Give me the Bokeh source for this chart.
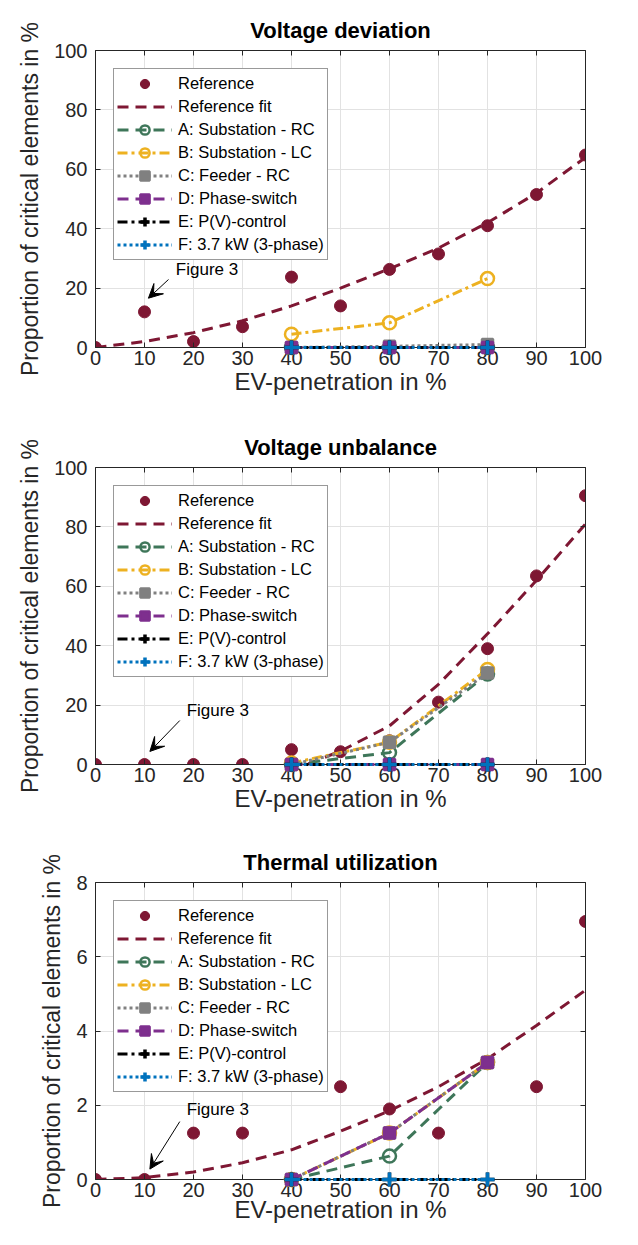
from bokeh.plotting import figure
from bokeh.layouts import column
from bokeh.models import (LinearAxis, Range1d, FixedTicker, Arrow, VeeHead,
                          Label, Legend, LegendItem)
from bokeh.embed import file_html
from bokeh.resources import INLINE

FONT = "Liberation Sans"

# ---------------- data ----------------
ev_ref = [0, 10, 20, 30, 40, 50, 60, 70, 80, 90, 100]
ev_sim = [40, 60, 80]

# Voltage deviation
vd_ref = [0, 12, 2, 7, 23.7, 14, 26.3, 31.5, 41, 51.5, 64.8]
vd_fit_x = [0, 10, 20, 30, 40, 50, 60, 70, 80, 90, 100]
vd_fit = [0, 2, 5, 9, 14, 20, 26.5, 33.5, 42, 52, 64]
vd_A = [0, 0, 0]
vd_B = [4.5, 8.3, 23.2]
vd_C = [0, 0.4, 1.0]
vd_D = [0, 0, 0]
vd_E = [0, 0, 0]
vd_F = [0, 0, 0]

# Voltage unbalance
vu_ref = [0, 0, 0, 0, 5, 4.3, 8, 21, 39, 63.5, 90.5]
vu_fit_x = [40, 50, 60, 70, 80, 90, 100]
vu_fit = [-2, 4.5, 13, 27, 44, 62, 81]
vu_A = [0, 4, 30.5]
vu_B = [0.5, 7.5, 32]
vu_C = [0, 7.5, 30.8]
vu_D = [0, 0, 0]
vu_E = [0, 0, 0]
vu_F = [0, 0, 0]

# Thermal utilization
th_ref = [0, 0, 1.25, 1.25, 0, 2.5, 1.9, 1.25, 3.15, 2.5, 6.95]
th_fit_x = [0, 10, 20, 30, 40, 50, 60, 70, 80, 90, 100]
th_fit = [0, 0.05, 0.2, 0.45, 0.8, 1.3, 1.85, 2.5, 3.25, 4.15, 5.1]
th_A = [0, 0.63, 3.15]
th_B = [0, 1.25, 3.15]
th_C = [0, 1.25, 3.15]
th_D = [0, 1.25, 3.15]
th_E = [0, 0, 0]
th_F = [0, 0, 0]

titles = ["Voltage deviation", "Voltage unbalance", "Thermal utilization"]
x_ticks = [0, 10, 20, 30, 40, 50, 60, 70, 80, 90, 100]
y_ticks_pct = [0, 20, 40, 60, 80, 100]
y_ticks_th = [0, 2, 4, 6, 8]
labels = ["Reference", "Reference fit", "A: Substation - RC", "B: Substation - LC",
          "C: Feeder - RC", "D: Phase-switch", "E: P(V)-control", "F: 3.7 kW (3-phase)"]

C_REF = "#7E1733"
C_A = "#3E7659"
C_B = "#EDB120"
C_C = "#808080"
C_D = "#7E2F8E"
C_E = "#000000"
C_F = "#0072BD"
AX = "#262626"


def make_panel(title, ref, fit_x, fit, series, yticks, ymax, ann, height, top, bottom,
               title_standoff=16, xlab_standoff=0):
    p = figure(width=620, height=height, output_backend="svg", toolbar_location=None,
               x_range=Range1d(0, 100), y_range=Range1d(0, ymax),
               min_border_left=95, min_border_right=35, min_border_top=top,
               min_border_bottom=bottom)
    p.title.text = title
    p.title.align = "center"
    p.title.text_font = FONT
    p.title.text_font_size = "22px"
    p.title.text_font_style = "bold"
    p.title.text_color = "#000000"
    p.title.standoff = title_standoff
    p.outline_line_color = None
    p.background_fill_color = "white"

    p.xaxis.ticker = FixedTicker(ticks=x_ticks)
    p.yaxis.ticker = FixedTicker(ticks=yticks)
    for ax in (p.xaxis[0], p.yaxis[0]):
        ax.major_tick_in = 5
        ax.major_tick_out = 0
        ax.minor_tick_line_color = None
        ax.axis_line_color = AX
        ax.major_tick_line_color = AX
        ax.major_label_text_font = FONT
        ax.major_label_text_font_size = "20px"
        ax.major_label_text_color = AX
        ax.axis_label_text_font = FONT
        ax.axis_label_text_font_style = "normal"
        ax.axis_label_text_color = AX
    p.xaxis.axis_label = "EV-penetration in %"
    p.yaxis.axis_label = "Proportion of critical elements in %"
    p.xaxis.axis_label_text_font_size = "24px"
    p.yaxis.axis_label_text_font_size = "23px"
    p.xaxis.major_label_standoff = 3
    p.xaxis.axis_label_standoff = xlab_standoff
    p.yaxis.major_label_standoff = 8
    p.yaxis.axis_label_standoff = 8

    top_ax = LinearAxis(ticker=FixedTicker(ticks=x_ticks),
                        major_label_overrides={t: "" for t in x_ticks})
    right_ax = LinearAxis(ticker=FixedTicker(ticks=yticks),
                          major_label_overrides={t: "" for t in yticks})
    for ax in (top_ax, right_ax):
        ax.major_tick_in = 5
        ax.major_tick_out = 0
        ax.minor_tick_line_color = None
        ax.axis_line_color = AX
        ax.major_tick_line_color = AX
        ax.major_label_standoff = 0
        ax.major_label_text_font_size = "1px"
    p.add_layout(top_ax, "above")
    p.add_layout(right_ax, "right")

    p.xgrid.ticker = FixedTicker(ticks=x_ticks)
    p.ygrid.ticker = FixedTicker(ticks=yticks)
    p.grid.grid_line_color = "#e2e2e2"
    p.grid.grid_line_width = 1

    items = []
    r_ref = p.scatter(ev_ref, ref, marker="circle", size=12, fill_color=C_REF, line_color=C_REF)
    items.append(LegendItem(label=labels[0], renderers=[r_ref]))
    r_fit = p.line(fit_x, fit, line_color=C_REF, line_width=3, line_dash="11 7")
    items.append(LegendItem(label=labels[1], renderers=[r_fit]))

    styles = [
        (C_A, "11 7", "circle", 13, None),
        (C_B, "10 4 3 4", "circle", 13, None),
        (C_C, "3 3", "square", 11, C_C),
        (C_D, "11 7", "square", 11, C_D),
        (C_E, "10 4 3 4", "cross", 14, None),
        (C_F, "3 3", "cross", 14, None),
    ]
    for (col, dash, mk, sz, fill), ys, lab in zip(styles, series, labels[2:]):
        rl = p.line(ev_sim, ys, line_color=col, line_width=3, line_dash=dash)
        rs = p.scatter(ev_sim, ys, marker=mk, size=sz, line_color=col,
                       line_width=3.5 if mk == "cross" else 2.5,
                       fill_color=fill if fill else None)
        rl.level = "overlay"
        rs.level = "overlay"
        items.append(LegendItem(label=lab, renderers=[rl, rs]))

    leg = Legend(items=items, location="top_left")
    leg.margin = 18
    leg.padding = 3
    leg.spacing = 0
    leg.label_height = 23
    leg.glyph_height = 23
    leg.glyph_width = 55
    leg.label_standoff = 6
    leg.label_text_font = FONT
    leg.label_text_font_size = "16.5px"
    leg.label_text_color = "#000000"
    leg.border_line_color = "#333333"
    leg.border_line_width = 1
    leg.background_fill_color = "white"
    leg.background_fill_alpha = 1
    p.add_layout(leg, "center")

    tx, ty, ax0, ay0, ax1, ay1 = ann
    p.add_layout(Label(x=tx, y=ty, text="Figure 3", text_font=FONT, text_font_size="17px",
                       text_align="left", text_baseline="middle", text_color="#000000"))
    p.add_layout(Arrow(end=VeeHead(size=14, fill_color="black", line_color="black", line_width=1),
                       x_start=ax0, y_start=ay0, x_end=ax1, y_end=ay1,
                       line_color="black", line_width=1))
    return p


p1 = make_panel(titles[0], vd_ref, vd_fit_x, vd_fit,
                [vd_A, vd_B, vd_C, vd_D, vd_E, vd_F], y_ticks_pct, 100,
                (16.4, 26.3, 14.9, 22.9, 10.8, 16.6), 419, 50, 72)
p2 = make_panel(titles[1], vu_ref, vu_fit_x, vu_fit,
                [vu_A, vu_B, vu_C, vu_D, vu_E, vu_F], y_ticks_pct, 100,
                (18.6, 18.2, 17.2, 14.8, 11.1, 4.4), 413, 48, 68)
p3 = make_panel(titles[2], th_ref, th_fit_x, th_fit,
                [th_A, th_B, th_C, th_D, th_E, th_F], y_ticks_th, 8,
                (18.6, 1.88, 17.2, 1.56, 11.1, 0.28), 397, 50, 50,
                title_standoff=16, xlab_standoff=-4)

layout = column(p1, p2, p3, spacing=0)
open("out.html", "w").write(file_html(layout, INLINE))
